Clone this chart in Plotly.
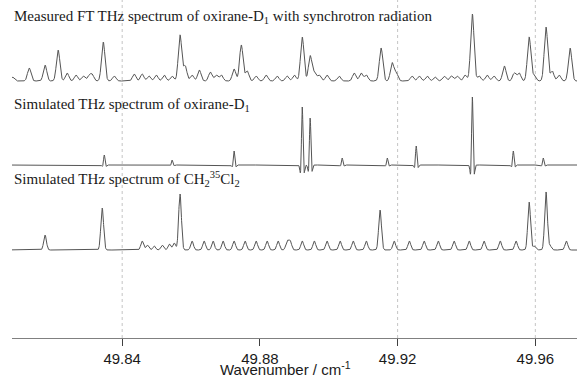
import numpy as np
import plotly.graph_objects as go

# ---- data (peak positions in cm^-1, intensities in arbitrary units) ----
meas_pos = [49.8081, 49.8130, 49.8176, 49.8214, 49.8240, 49.8266, 49.8287, 49.8304, 49.8313,
            49.8345, 49.8377, 49.8435, 49.8458, 49.8478, 49.8499, 49.8522, 49.8545, 49.8568,
            49.8583, 49.8603, 49.8624, 49.8656, 49.8673, 49.8688, 49.8725, 49.8746, 49.8763,
            49.8789, 49.8818, 49.8850, 49.8879, 49.8900, 49.8923, 49.8946, 49.8958, 49.8972,
            49.8995, 49.9030, 49.9074, 49.9094, 49.9109, 49.9152, 49.9184, 49.9196, 49.9242,
            49.9263, 49.9286, 49.9309, 49.9335, 49.9356, 49.9373, 49.9396, 49.9417, 49.9437,
            49.9460, 49.9480, 49.9510, 49.9539, 49.9553, 49.9582, 49.9597, 49.9631, 49.9649,
            49.9669, 49.9701]
meas_int = [4, 13, 16, 31, 8, 6, 5, 5, 6,
            39, 5, 7, 7, 5, 6, 6, 5, 46,
            15, 6, 11, 9, 6, 6, 12, 36, 10,
            5, 6, 5, 5, 6, 44, 25, 8, 6,
            6, 5, 8, 8, 6, 33, 18, 8, 5,
            5, 5, 4, 5, 5, 5, 6, 67, 5,
            6, 5, 15, 8, 8, 44, 6, 54, 10,
            6, 33]

oxi_pos = [49.8348, 49.8545, 49.8725, 49.8923, 49.8946, 49.9039, 49.9170, 49.9254,
           49.9417, 49.9536, 49.9623]
oxi_int = [10, 5, 14, 58, 47, 7, 7, 19, 68, 14, 7]

ch_pos = [49.8176, 49.8342, 49.8458, 49.8473, 49.8493, 49.8516, 49.8537, 49.8551, 49.8568,
          49.8603, 49.8638, 49.8664, 49.8693, 49.8725, 49.8757, 49.8789, 49.8821, 49.8853,
          49.8879, 49.8888, 49.8923, 49.8958, 49.8995, 49.9033, 49.9071, 49.9109, 49.9149,
          49.9190, 49.9234, 49.9277, 49.9318, 49.9364, 49.9408, 49.9451, 49.9498, 49.9544,
          49.9582, 49.9597, 49.9631, 49.9643, 49.9690]
ch_int = [15, 42, 9, 5, 4, 5, 6, 7, 56,
          9, 9, 9, 9, 9, 9, 9, 9, 9,
          9, 9, 9, 9, 9, 9, 9, 9, 40,
          9, 9, 9, 9, 9, 9, 9, 9, 9,
          48, 4, 58, 4, 9]

tick_vals = [49.84, 49.88, 49.92, 49.96]
tick_text = ["49.84", "49.88", "49.92", "49.96"]
grid_vals = [49.84, 49.92, 49.96]

label_meas = "Measured FT THz spectrum of oxirane-D<sub>1</sub> with synchrotron radiation"
label_oxi = "Simulated THz spectrum of oxirane-D<sub>1</sub>"
label_ch = "Simulated THz spectrum of CH<sub>2</sub><sup>35</sup>Cl<sub>2</sub>"
x_title = "Wavenumber / cm<sup>-1</sup>"

# stacking offsets of the three spectra (y units)
off_meas, off_oxi, off_ch = 257, 173, 88

x = np.linspace(49.806, 49.974, 5000)


def spectrum(pos, inten, sigma, lobe):
    y = np.zeros_like(x)
    for p, h in zip(pos, inten):
        u = (x - p) / sigma
        y += h * (1 - lobe * u ** 2) * np.exp(-u ** 2 / 2)
    return y


fig = go.Figure()
fig.add_trace(go.Scatter(x=x, y=spectrum(meas_pos, meas_int, 0.00050, 0.0) + off_meas,
                         mode="lines", line=dict(color="#555555", width=1), hoverinfo="skip"))
fig.add_trace(go.Scatter(x=x, y=spectrum(oxi_pos, oxi_int, 0.00028, 0.5) + off_oxi,
                         mode="lines", line=dict(color="#555555", width=1), hoverinfo="skip"))
fig.add_trace(go.Scatter(x=x, y=spectrum(ch_pos, ch_int, 0.00040, 0.0) + off_ch,
                         mode="lines", line=dict(color="#555555", width=1), hoverinfo="skip"))

for g in grid_vals:
    fig.add_shape(type="line", x0=g, x1=g, y0=0, y1=1, xref="x", yref="paper",
                  line=dict(color="#c4c4c4", width=1, dash="dot"), layer="below")

serif = dict(family="Liberation Serif", size=15, color="#1a1a1a")
for txt, yy in [(label_meas, 321), (label_oxi, 233), (label_ch, 159)]:
    fig.add_annotation(text=txt, x=0, xref="paper", y=yy, yref="y", xanchor="left",
                       yanchor="middle", showarrow=False, font=serif)

fig.add_annotation(text=x_title, x=49.8875, xref="x", y=0, yref="paper",
                   xanchor="center", yanchor="bottom", yshift=-41, showarrow=False,
                   borderpad=0,
                   font=dict(family="Liberation Sans", size=15, color="#1a1a1a"))

fig.update_layout(
    width=577, height=379,
    margin=dict(l=12, r=0, t=0, b=41),
    paper_bgcolor="white", plot_bgcolor="white",
    showlegend=False,
    xaxis=dict(range=[49.808, 49.9721], tickvals=tick_vals, ticktext=tick_text,
               showgrid=False, zeroline=False, showline=True, linecolor="#808080",
               linewidth=1, ticks="outside", ticklen=7, tickcolor="#404040",
               tickfont=dict(family="Liberation Sans", size=15, color="#1a1a1a")),
    yaxis=dict(range=[0, 338], visible=False),
)

fig.write_html("out.html", config={"displayModeBar": False, "staticPlot": True},
               post_script="document.body.style.margin='0';document.body.style.overflow='hidden';")
